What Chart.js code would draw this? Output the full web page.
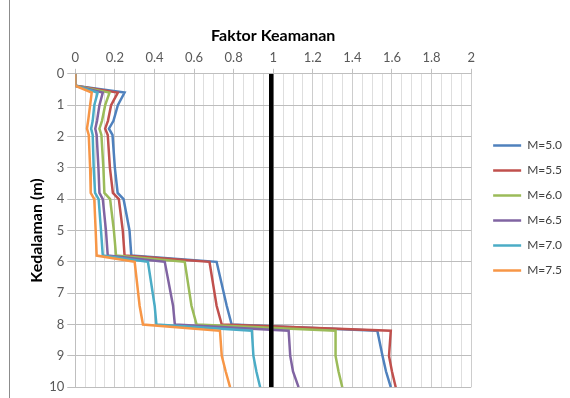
<!DOCTYPE html>
<html><head><meta charset="utf-8">
<script src="https://cdn.jsdelivr.net/npm/chart.js@4.4.0/dist/chart.umd.min.js"></script>
<style>
html,body{margin:0;padding:0;background:#fff;}
#wrap{position:relative;width:570px;height:398px;overflow:hidden;}
#border{position:absolute;left:9px;top:0;width:1px;height:398px;background:#8c8c8c;}
canvas{position:absolute;left:0;top:0;}
</style></head><body>
<div id="wrap"><canvas id="c" width="570" height="398"></canvas><div id="border"></div></div>
<script>
// Depth (m) of each reading, shared by all series
const depths = [0, 0.38, 0.6, 1.0, 1.5, 1.75, 1.95, 3.0, 3.8, 4.0, 5.0, 5.8, 6.0, 7.4, 8.0, 8.2, 9.0, 9.5, 10];
// Safety factor values per magnitude
const fsM50 = [0, 0, 0.249, 0.215, 0.193, 0.17, 0.188, 0.2, 0.214, 0.244, 0.274, 0.283, 0.714, 0.765, 0.79, 1.526, 1.552, 1.57, 1.594];
const fsM55 = [0, 0, 0.215, 0.181, 0.165, 0.151, 0.164, 0.175, 0.19, 0.22, 0.24, 0.249, 0.678, 0.714, 0.74, 1.594, 1.585, 1.6, 1.619];
const fsM60 = [0, 0, 0.173, 0.151, 0.135, 0.122, 0.132, 0.142, 0.147, 0.176, 0.195, 0.206, 0.553, 0.587, 0.613, 1.315, 1.315, 1.33, 1.349];
const fsM65 = [0, 0, 0.139, 0.122, 0.11, 0.101, 0.108, 0.117, 0.122, 0.139, 0.155, 0.164, 0.452, 0.494, 0.503, 1.078, 1.086, 1.1, 1.128];
const fsM70 = [0, 0, 0.113, 0.096, 0.088, 0.08, 0.088, 0.093, 0.1, 0.118, 0.13, 0.139, 0.367, 0.401, 0.41, 0.892, 0.9, 0.915, 0.934];
const fsM75 = [0, 0, 0.083, 0.075, 0.065, 0.059, 0.068, 0.075, 0.078, 0.096, 0.103, 0.108, 0.3, 0.325, 0.342, 0.731, 0.74, 0.76, 0.782];
const seriesLabels = ['M=5.0', 'M=5.5', 'M=6.0', 'M=6.5', 'M=7.0', 'M=7.5'];
const seriesColors = ['#4F81BD', '#C0504D', '#9BBB59', '#8064A2', '#4BACC6', '#F79646'];
// Reference line FS = 1
const refX = [0.99, 0.99];
const refDepth = [0, 10];
const xTickLabels = ['0', '0.2', '0.4', '0.6', '0.8', '1', '1.2', '1.4', '1.6', '1.8', '2'];
const yTickLabels = ['0', '1', '2', '3', '4', '5', '6', '7', '8', '9', '10'];

const allSeries = [fsM50, fsM55, fsM60, fsM65, fsM70, fsM75];
const FONT = 'Lato, "Liberation Sans", sans-serif';
const isMajor = v => Math.abs(v * 5 - Math.round(v * 5)) < 1e-6;

const datasets = allSeries.map((vals, i) => ({
  label: seriesLabels[i],
  data: depths.map((d, j) => ({x: vals[j], y: d})),
  showLine: true,
  borderColor: seriesColors[i],
  backgroundColor: seriesColors[i],
  borderWidth: 2.5,
  pointRadius: 0,
  tension: 0,
  order: allSeries.length - i
}));
datasets.push({
  label: 'FK=1',
  data: refDepth.map((d, j) => ({x: refX[j], y: d})),
  showLine: true,
  borderColor: '#000',
  backgroundColor: '#000',
  borderWidth: 4.5,
  pointRadius: 0,
  order: 0
});

const GAP = 7;
const legendShift = {
  id: 'legendShift',
  afterInit(chart) {
    const lg = chart.legend;
    const f = lg.fit.bind(lg);
    lg.fit = function () { f(); this.width += GAP; };
  },
  afterLayout(chart) { chart.legend.left += GAP + 2; }
};

new Chart(document.getElementById('c'), {
  type: 'scatter',
  data: {datasets},
  plugins: [legendShift],
  options: {
    responsive: false,
    animation: false,
    layout: {padding: {left: 27, top: 21, right: 0, bottom: -3}},
    plugins: {
      tooltip: {enabled: false},
      legend: {
        position: 'right',
        align: 'start',
        title: {display: true, text: ' ', font: {size: 12}, padding: {top: 91, bottom: 0}},
        labels: {
          usePointStyle: true, pointStyle: 'line', pointStyleWidth: 28,
          font: {family: FONT, size: 12}, color: '#404040', padding: 13,
          filter: item => item.datasetIndex < seriesLabels.length,
          sort: (a, b) => a.datasetIndex - b.datasetIndex
        }
      }
    },
    scales: {
      x: {
        type: 'linear', position: 'top', min: 0, max: 2,
        title: {display: true, text: 'Faktor Keamanan', color: '#000',
          font: {family: FONT, size: 16, weight: 'bold'}, padding: {top: 5, bottom: 2}},
        ticks: {
          stepSize: 0.05, autoSkip: false, maxRotation: 0, padding: 3,
          color: '#595959', font: {family: FONT, size: 13},
          callback: v => isMajor(v) ? xTickLabels[Math.round(v * 5)] : ''
        },
        grid: {
          color: c => (c.tick && isMajor(c.tick.value)) ? '#cdcdcd' : '#dedede',
          tickColor: c => (c.tick && isMajor(c.tick.value)) ? '#bfbfbf' : 'rgba(0,0,0,0)',
          tickLength: 5, lineWidth: 1
        },
        border: {color: '#bfbfbf'}
      },
      y: {
        type: 'linear', reverse: true, min: 0, max: 10,
        title: {display: true, text: 'Kedalaman (m)', color: '#000',
          font: {family: FONT, size: 16, weight: 'bold'}, padding: {top: 0, bottom: 0}},
        ticks: {stepSize: 1, padding: 3, color: '#595959', font: {family: FONT, size: 13},
          callback: v => yTickLabels[Math.round(v)]},
        grid: {color: '#bdbdbd', tickLength: 8, lineWidth: 1},
        border: {color: '#bfbfbf'}
      }
    }
  }
});
</script>
</body></html>
